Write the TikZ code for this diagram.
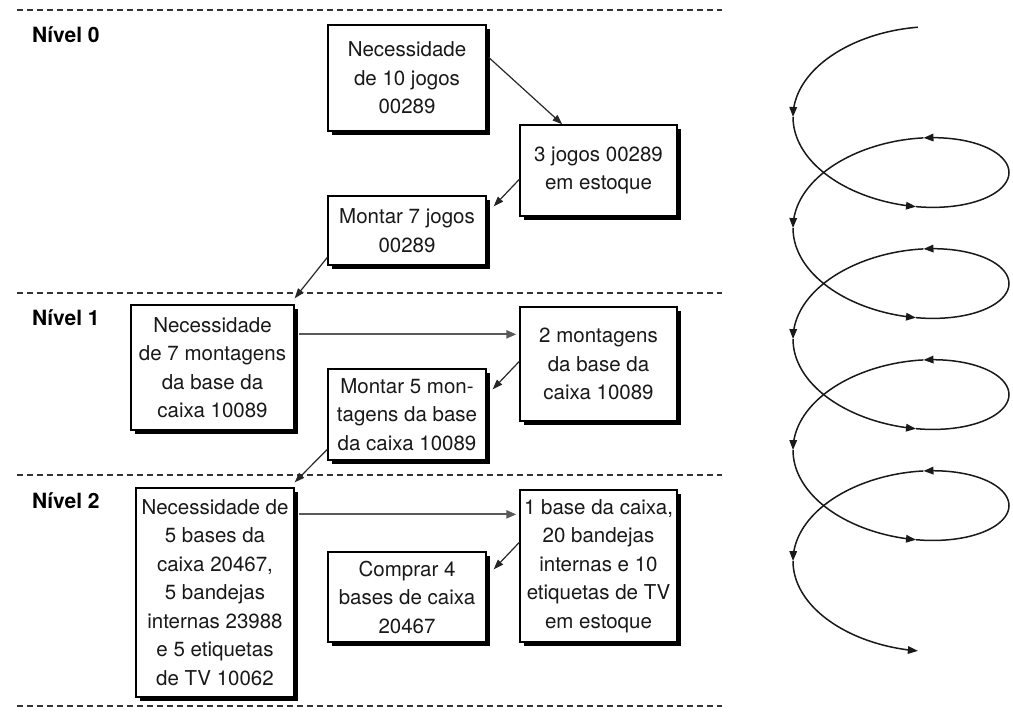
\documentclass[tikz,border=0pt]{standalone}
\usepackage{fontspec}
\setmainfont{TeX Gyre Heros}
\usetikzlibrary{arrows.meta,shadows}
\begin{document}
\begin{tikzpicture}[x=1pt,y=-1pt,
  box/.style={draw=black, line width=1.3pt, fill=white, align=center,
    inner sep=0pt, text=black!90,
    font=\fontsize{20.5}{28.5}\selectfont,
    drop shadow={shadow xshift=3.5pt, shadow yshift=-3.5pt, fill=black, opacity=1}},
  lvl/.style={anchor=base west, inner sep=0pt, font=\fontsize{21}{24}\selectfont\bfseries},
  levelline/.style={line width=1.8pt, black!80, dash pattern=on 6pt off 4pt},
  conn/.style={line width=1.2pt, black!85, -{Triangle[length=10pt,width=7pt]}},
  hconn/.style={line width=2pt, black!65, -{Triangle[length=10pt,width=8pt]}},
  spiralline/.style={line width=1.5pt, black!90, -{Triangle[length=10pt,width=7.5pt]}}
]
\useasboundingbox (0,0) rectangle (1013,715);

% level separators
\draw[levelline] (17,10) -- (722,10);
\draw[levelline] (17,293) -- (722,293);
\draw[levelline] (17,475) -- (722,475);
\draw[levelline] (17,706) -- (722,706);

% level labels
\node[lvl] (n0) at (32,42) {Nível 0};
\node[lvl] (n1) at (32,325) {Nível 1};
\node[lvl] (n2) at (32,508) {Nível 2};

% level 0
\node[box, minimum width=158pt, minimum height=106pt] (b1) at (407,78)
  {Necessidade\\de 10 jogos\\00289};
\node[box, minimum width=157pt, minimum height=91pt] (b2) at (598.5,170.5)
  {3 jogos 00289\\em estoque};
\node[box, minimum width=158pt, minimum height=69pt] (b3) at (407,230.5)
  {Montar 7 jogos\\00289};

% level 1
\node[box, minimum width=163pt, minimum height=125pt] (b4) at (212.5,367.5)
  {Necessidade\\de 7 montagens\\da base da\\caixa 10089};
\node[box, minimum width=157pt, minimum height=114pt] (b5) at (598.5,364)
  {2 montagens\\da base da\\caixa 10089};
\node[box, minimum width=158pt, minimum height=91pt] (b6) at (407,414.5)
  {Montar 5 mon-\\tagens da base\\da caixa 10089};

% level 2
\node[box, minimum width=158pt, minimum height=209pt] (b7) at (215,592.5)
  {Necessidade de\\5 bases da\\caixa 20467,\\5 bandejas\\internas 23988\\e 5 etiquetas\\de TV 10062};
\node[box, minimum width=158pt, minimum height=90pt] (b8) at (407,597)
  {Comprar 4\\bases de caixa\\20467};
\node[box, minimum width=157pt, minimum height=152pt] (b9) at (598.5,566)
  {1 base da caixa,\\20 bandejas\\internas e 10\\etiquetas de TV\\em estoque};

% connectors
\draw[conn] ([xshift=2pt,yshift=-33pt]b1.north east) -- ([xshift=43pt]b2.north west);
\draw[conn] ([yshift=-55pt]b2.north west) -- ([xshift=7pt,yshift=-11pt]b3.north east);
\draw[conn] ([yshift=-62pt]b3.north west) -- ([yshift=6pt]b4.north east);

\coordinate (h1) at ([xshift=4pt,yshift=-30pt]b4.north east);
\draw[hconn] (h1) -- ([xshift=-3pt]h1 -| b5.west);
\draw[conn] ([yshift=-55pt]b5.north west) -- ([xshift=6pt,yshift=-21pt]b6.north east);
\draw[conn] ([yshift=-81pt]b6.north west) -- ([yshift=5pt]b7.north east);

\coordinate (h2) at ([xshift=4pt,yshift=-27pt]b7.north east);
\draw[hconn] (h2) -- ([xshift=-3pt]h2 -| b9.west);
\draw[conn] ([yshift=-53pt]b9.north west) -- ([xshift=7pt,yshift=-18pt]b8.north east);

% descending spiral with direction marks
\foreach \a/\b in {81/180,180/278,278/438,438/540,540/638,638/798,798/900,
                   900/998,998/1158,1158/1260,1260/1358,1358/1518,1518/1620,1620/1719}
  \draw[spiralline] plot[domain=\a:\b, samples=40, smooth, variable=\t]
    ({901+108*cos(\t)}, {61.5+0.3084*\t-60*sin(\t)});
\end{tikzpicture}
\end{document}
